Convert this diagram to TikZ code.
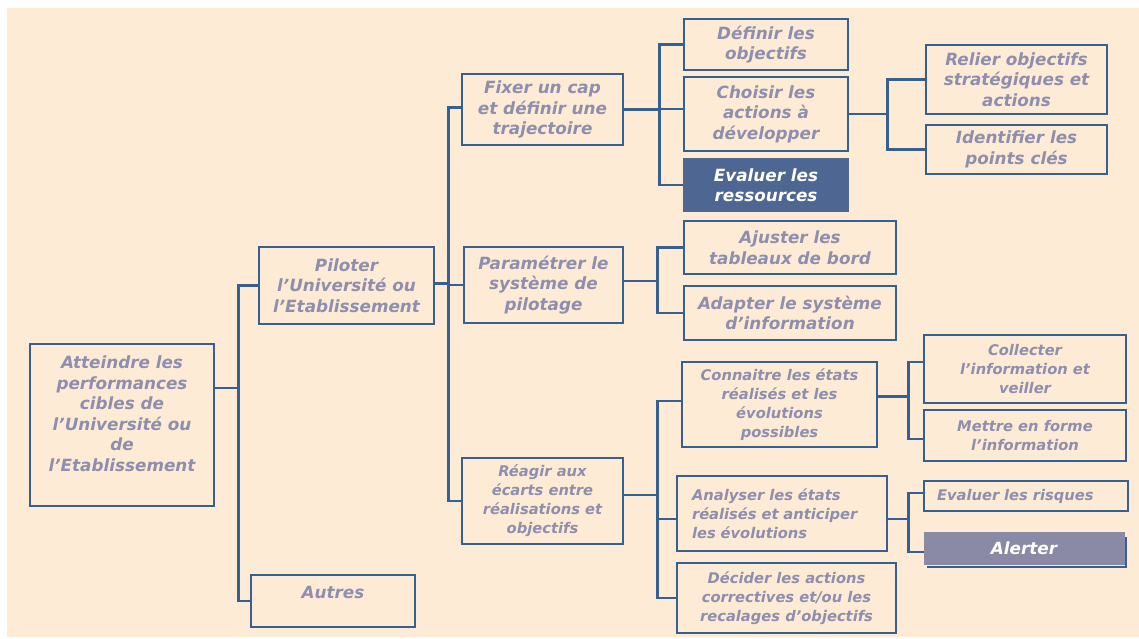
\documentclass[tikz,border=0pt]{standalone}
\usepackage{fontspec}
\setmainfont{DejaVu Sans}
\definecolor{bg}{HTML}{FDEBD6}
\definecolor{lc}{HTML}{365F92}
\definecolor{tc}{HTML}{8E8EAE}
\definecolor{dk}{HTML}{4D6692}
\definecolor{gr}{HTML}{8A8AA6}
\newcommand{\bigf}{\fontsize{16.8}{20.5}\selectfont\bfseries\itshape}
\newcommand{\smallf}{\fontsize{14.7}{19}\selectfont\bfseries\itshape}
\begin{document}
\begin{tikzpicture}[x=1pt,y=-1pt,
  box/.style={draw=lc, line width=2.5pt, fill=bg, inner sep=0pt, text=tc, font=\bigf, align=center},
  sbox/.style={box, font=\smallf},
  txt/.style={inner sep=0pt, text=tc, font=\bigf, align=center},
  conn/.style={draw=lc, line width=2.5pt},
  wd/.style={minimum width=#1},
  ht/.style={minimum height=#1}]
\useasboundingbox (0,0) rectangle (1139,638);
\fill[bg] (7,8) rectangle (1139,637);

% level 0
\node[box, wd=184pt, ht=162pt] (a) at (122,425) {};
\node[txt] (at) at (122,413.5) {Atteindre les\\performances\\cibles de\\l’Université ou\\de\\l’Etablissement};
% level 1
\node[box, wd=175pt, ht=77pt] (p) at (346.5,285.5) {Piloter\\l’Université ou\\l’Etablissement};
\node[box, wd=164pt, ht=52pt] (au) at (333,601) {};
\node[txt] (aut) at (333,592) {Autres};
% level 2
\node[box, wd=161pt, ht=71pt] (f) at (542.5,109.5) {Fixer un cap\\et définir une\\trajectoire};
\node[box, wd=159pt, ht=76pt] (pa) at (543.5,285) {Paramétrer le\\système de\\pilotage};
\node[sbox, wd=161pt, ht=86pt] (r) at (542.5,501) {Réagir aux\\écarts entre\\réalisations et\\objectifs};
% level 3
\node[box, wd=164pt, ht=51pt] (d) at (766,44.5) {Définir les\\objectifs};
\node[box, wd=164pt, ht=74pt] (c) at (766,114) {Choisir les\\actions à\\développer};
\node[box, draw=dk, fill=dk, text=white, wd=164pt, ht=52pt] (e) at (766,185) {Evaluer les\\ressources};
\node[box, wd=212pt, ht=53pt] (aj) at (790,247.5) {Ajuster les\\tableaux de bord};
\node[box, wd=212pt, ht=54pt] (ad) at (790,313) {Adapter le système\\d’information};
\node[sbox, wd=195pt, ht=85pt] (co) at (779.5,404.5) {Connaitre les états\\réalisés et les\\évolutions\\possibles};
\node[sbox, wd=210pt, ht=75pt, text width=180pt, align=left] (an) at (782,513.5) {Analyser les états\\réalisés et anticiper\\les évolutions};
\node[sbox, wd=219pt, ht=70pt] (de) at (786.5,598) {Décider les actions\\correctives et/ou les\\recalages d’objectifs};
% level 4
\node[box, wd=181pt, ht=69pt] (rel) at (1016.5,79.5) {Relier objectifs\\stratégiques et\\actions};
\node[box, wd=181pt, ht=49pt] (id) at (1016.5,149.5) {Identifier les\\points clés};
\node[sbox, wd=202pt, ht=68pt] (cl) at (1025,369) {Collecter\\l’information et\\veiller};
\node[sbox, wd=202pt, ht=51pt] (m) at (1025,435.5) {Mettre en forme\\l’information};
\node[sbox, wd=204pt, ht=30pt, text width=178pt, align=left] (er) at (1026,496) {Evaluer les risques};
\draw[conn, line width=2.2pt] (927,567) -- (1126,567) -- (1126,537);
\node[box, draw=gr, fill=gr, line width=0.5pt, text=white, wd=200pt, ht=32pt] (al) at (1024,548) {Alerter};

% connectors
\draw[conn] ([yshift=37pt]a.east) -- ++(23,0) |- (p.west);
\draw[conn] ([yshift=37pt]a.east) -- ++(23,0) |- (au.west);
\draw[conn] ([yshift=2pt]p.east) -- ++(13,0) |- ([yshift=2pt]f.west);
\draw[conn] ([yshift=2pt]p.east) -- ++(13,0) |- (pa.west);
\draw[conn] ([yshift=2pt]p.east) -- ++(13,0) |- (r.west);
\draw[conn] (f.east) -- ++(35,0) |- (d.west);
\draw[conn] (f.east) -- ++(35,0) |- ([yshift=5pt]c.west);
\draw[conn] (f.east) -- ++(35,0) |- (e.west);
\draw[conn] (c.east) -- ++(38,0) |- (rel.west);
\draw[conn] (c.east) -- ++(38,0) |- (id.west);
\draw[conn] ([yshift=4pt]pa.east) -- ++(33,0) |- (aj.west);
\draw[conn] ([yshift=4pt]pa.east) -- ++(33,0) |- (ad.west);
\draw[conn] ([yshift=6pt]r.east) -- ++(33,0) |- ([yshift=3.5pt]co.west);
\draw[conn] ([yshift=6pt]r.east) -- ++(33,0) |- ([yshift=-5.5pt]an.west);
\draw[conn] ([yshift=6pt]r.east) -- ++(33,0) |- (de.west);
\draw[conn] ([yshift=8pt]co.east) -- ++(30,0) |- ([yshift=7pt]cl.west);
\draw[conn] ([yshift=8pt]co.east) -- ++(30,0) |- ([yshift=-3.5pt]m.west);
\draw[conn] ([yshift=-5.5pt]an.east) -- ++(20,0) |- ([yshift=3pt]er.west);
\draw[conn] ([yshift=-5.5pt]an.east) -- ++(20,0) |- ([yshift=-4pt]al.west);
\end{tikzpicture}
\end{document}
